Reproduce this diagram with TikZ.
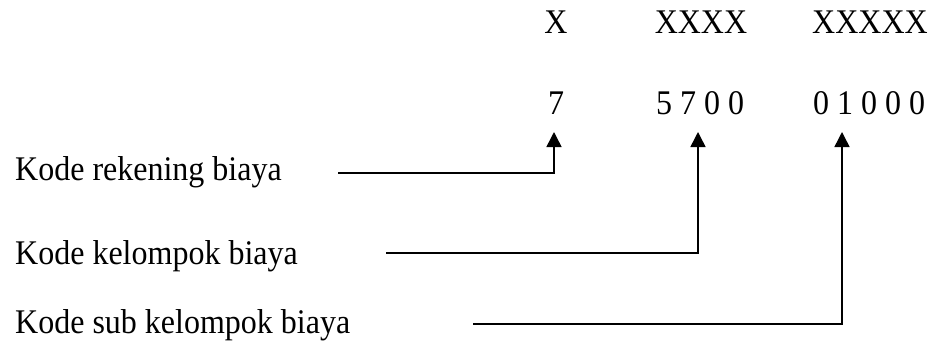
\documentclass[tikz,border=0pt]{standalone}
\usepackage{fontspec}
\setmainfont{Liberation Serif}
\usetikzlibrary{arrows.meta}
\newcommand{\tallt}[1]{\scalebox{1}[1.08]{#1}}
\begin{document}
\begin{tikzpicture}[x=1pt,y=-1pt,
  lbl/.style={anchor=base west,inner sep=0pt,font=\fontsize{32}{34}\selectfont},
  code/.style={anchor=base,inner sep=0pt,font=\fontsize{32}{34}\selectfont},
  conn/.style={line width=1.5pt,-{Triangle[length=15pt,width=15pt]}}]
\useasboundingbox (0,0) rectangle (932,346);
\node[code] (x1) at (556,33) {\tallt{X}};
\node[code] (x2) at (701,33) {\tallt{XXXX}};
\node[code] (x3) at (870,33) {\tallt{XXXXX}};
\node[code] (n1) at (556,114) {\tallt{7}};
\node[code] (n2) at (700,114) {\tallt{5 7 0 0}};
\node[code] (n3) at (869,114) {\tallt{0 1 0 0 0}};
\node[lbl] (l1) at (15,180) {\tallt{Kode rekening biaya}};
\node[lbl] (l2) at (15,264) {\tallt{Kode kelompok biaya}};
\node[lbl] (l3) at (15,333) {\tallt{Kode sub kelompok biaya}};
\coordinate (s1) at (338,173);
\coordinate (s2) at (386,253);
\coordinate (s3) at (473,324);
\coordinate (t1) at (554,132);
\coordinate (t2) at (698,132);
\coordinate (t3) at (842,132);
\draw[conn] (s1) -| (t1);
\draw[conn] (s2) -| (t2);
\draw[conn] (s3) -| (t3);
\end{tikzpicture}
\end{document}
